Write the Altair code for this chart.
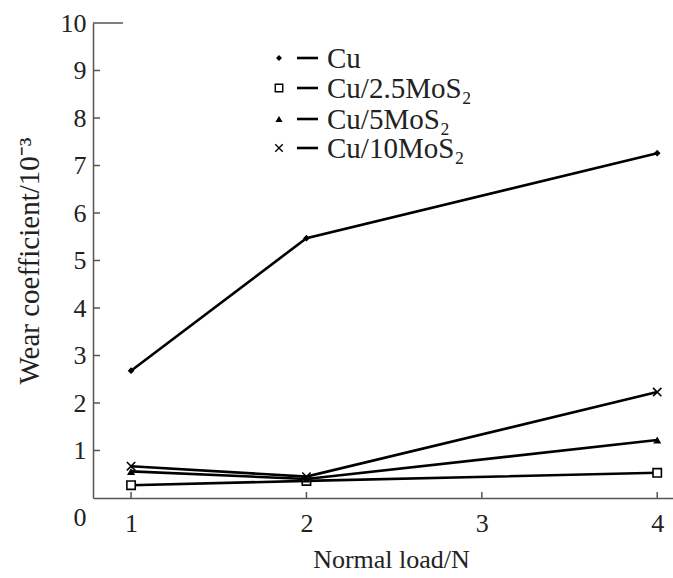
import altair as alt
import pandas as pd

# Wear coefficient (x10^-3) versus normal load for Cu and Cu/MoS2 composites
loads = [1, 2, 4]
series_names = ["Cu", "Cu/2.5MoS₂", "Cu/5MoS₂", "Cu/10MoS₂"]
wear_cu = [2.68, 5.47, 7.26]
wear_cu25 = [0.27, 0.36, 0.53]
wear_cu5 = [0.56, 0.40, 1.22]
wear_cu10 = [0.67, 0.45, 2.23]

x_tick_values = [1, 2, 3, 4]
y_tick_values = [0, 1, 2, 3, 4, 5, 6, 7, 8, 9, 10]

FONT = "'Liberation Serif', 'Times New Roman', serif"
AXIS_COLOR = "#555555"
TEXT_COLOR = "#222222"
W, H = 580, 475

x_scale = alt.Scale(domain=[0.783, 4.09], nice=False, zero=False)
y_scale = alt.Scale(domain=[0, 10], nice=False)

x_axis = alt.Axis(
    values=x_tick_values, ticks=False, grid=False, domainColor=AXIS_COLOR,
    domainWidth=1.5, labelFont=FONT, labelFontSize=26, labelColor=TEXT_COLOR,
    labelPadding=12, title="Normal load/N", titleFont=FONT, titleFontSize=26,
    titleFontWeight="normal", titleColor=TEXT_COLOR, titlePadding=10,
    titleX=298,
)
y_axis = alt.Axis(
    values=y_tick_values, ticks=False, grid=False, domainColor=AXIS_COLOR,
    domainWidth=1.5, labelFont=FONT, labelFontSize=26, labelColor=TEXT_COLOR,
    labelPadding=7, title="Wear coefficient/10⁻³", titleFont=FONT,
    titleFontSize=29, titleFontWeight="normal", titleColor=TEXT_COLOR,
    titlePadding=16,
    labelOffset={"condition": {"test": "datum.value === 0", "value": 19}, "value": 0},
)


def X(field):
    return alt.X(field, scale=x_scale, axis=x_axis)


def Y(field):
    return alt.Y(field, scale=y_scale, axis=y_axis)


series = [
    (series_names[0], wear_cu, "diamond", True, 45),
    (series_names[1], wear_cu25, "square", False, 70),
    (series_names[2], wear_cu5, "triangle-up", True, 65),
    (series_names[3], wear_cu10, "M-1,-1L1,1M1,-1L-1,1", False, 70),
]

layers = []
for name, vals, shape, filled, size in series:
    df = pd.DataFrame({"load": loads, "wear": vals, "series": name})
    line = alt.Chart(df).mark_line(color="black", strokeWidth=2.6).encode(
        x=X("load:Q"), y=Y("wear:Q")
    )
    pts = alt.Chart(df).mark_point(
        shape=shape, filled=filled, size=size, color="black",
        strokeWidth=1.6, opacity=1, fill="black" if filled else "white",
    ).encode(x=X("load:Q"), y=Y("wear:Q"))
    layers += [line, pts]

# inward tick marks on both axes
ytick_df = pd.DataFrame({"v": y_tick_values[1:-1]})
y_ticks = alt.Chart(ytick_df).mark_rule(color=AXIS_COLOR, strokeWidth=1.5).encode(
    y=Y("v:Q"), x=alt.value(0), x2=alt.value(7)
)
xtick_df = pd.DataFrame({"v": x_tick_values})
x_ticks = alt.Chart(xtick_df).mark_rule(color=AXIS_COLOR, strokeWidth=1.5).encode(
    x=X("v:Q"), y=alt.value(H), y2=alt.value(H - 6)
)
top_df = pd.DataFrame({"v": [10]})
top_cap = alt.Chart(top_df).mark_rule(color=AXIS_COLOR, strokeWidth=1.5).encode(
    y=Y("v:Q"), x=alt.value(0), x2=alt.value(30)
)

# legend: marker, short dash, label
leg_df = pd.DataFrame({"label": series_names, "row": [35, 65, 96, 125]})
leg_layers = []
for (name, vals, shape, filled, size), row in zip(series, leg_df["row"]):
    one = pd.DataFrame({"label": [name], "row": [row]})
    leg_layers.append(
        alt.Chart(one).mark_point(
            shape=shape, filled=filled, size=size * 0.8, color="black",
            strokeWidth=1.4, opacity=1, fill="black" if filled else "white",
        ).encode(x=alt.value(186), y=alt.Y("row:Q", scale=None, axis=None))
    )
leg_dash = alt.Chart(leg_df).mark_rule(color="black", strokeWidth=2.6).encode(
    x=alt.value(204), x2=alt.value(225), y=alt.Y("row:Q", scale=None, axis=None)
)
leg_text = alt.Chart(leg_df).mark_text(
    align="left", baseline="middle", font=FONT, fontSize=29, color=TEXT_COLOR, dy=1
).encode(
    x=alt.value(234), y=alt.Y("row:Q", scale=None, axis=None), text="label:N"
)

chart = alt.layer(
    *layers, y_ticks, x_ticks, top_cap, *leg_layers, leg_dash, leg_text
).properties(
    width=W, height=H,
    autosize=alt.AutoSizeParams(type="none"),
    padding={"left": 93, "top": 23, "right": 0, "bottom": 80},
    background="white",
).configure_view(stroke=None)

chart.save("out.html", embed_options={"renderer": "svg", "actions": False})
